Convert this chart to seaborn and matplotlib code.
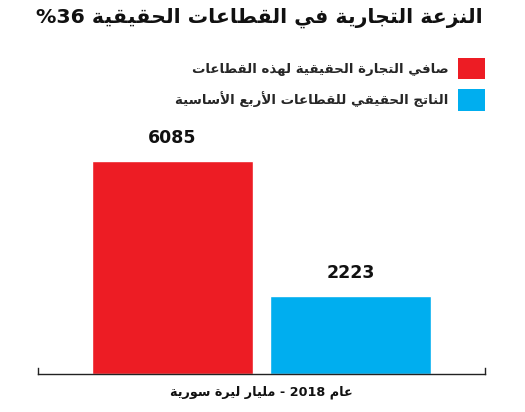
import numpy as np
import pandas as pd
import matplotlib
matplotlib.use("Agg")
import matplotlib.pyplot as plt
from matplotlib.patches import Patch
import seaborn as sns

# chart data
categories = ["صافي التجارة الحقيقية لهذه القطاعات",
              "الناتج الحقيقي للقطاعات الأربع الأساسية"]
values = [6085, 2223]
colors = ["#ED1C24", "#00AEEF"]
title = "النزعة التجارية في القطاعات الحقيقية 36%"
xlabel = "عام 2018 - مليار ليرة سورية"

# --- minimal arabic shaping (matplotlib has no shaping / bidi) ---
DUAL = {'ئ': 0xFE89, 'ب': 0xFE8F, 'ت': 0xFE95, 'ث': 0xFE99, 'ج': 0xFE9D, 'ح': 0xFEA1,
        'خ': 0xFEA5, 'س': 0xFEB1, 'ش': 0xFEB5, 'ص': 0xFEB9, 'ض': 0xFEBD, 'ط': 0xFEC1,
        'ظ': 0xFEC5, 'ع': 0xFEC9, 'غ': 0xFECD, 'ف': 0xFED1, 'ق': 0xFED5, 'ك': 0xFED9,
        'ل': 0xFEDD, 'م': 0xFEE1, 'ن': 0xFEE5, 'ه': 0xFEE9, 'ي': 0xFEF1}
RIGHT = {'آ': 0xFE81, 'أ': 0xFE83, 'ؤ': 0xFE85, 'إ': 0xFE87, 'ا': 0xFE8D, 'ة': 0xFE93,
         'د': 0xFEA9, 'ذ': 0xFEAB, 'ر': 0xFEAD, 'ز': 0xFEAF, 'و': 0xFEED, 'ى': 0xFEEF}
LAM_ALEF = {'آ': 0xFEF5, 'أ': 0xFEF7, 'إ': 0xFEF9, 'ا': 0xFEFB}


def shape(text):
    units = []
    i = 0
    while i < len(text):
        ch = text[i]
        if ch == 'ل' and i + 1 < len(text) and text[i + 1] in LAM_ALEF:
            units.append(('R', LAM_ALEF[text[i + 1]]))
            i += 2
            continue
        if ch in DUAL:
            units.append(('D', DUAL[ch]))
        elif ch in RIGHT:
            units.append(('R', RIGHT[ch]))
        else:
            units.append(('N', ch))
        i += 1
    out = []
    for k, (kind, base) in enumerate(units):
        if kind == 'N':
            out.append(base)
            continue
        prev = k > 0 and units[k - 1][0] == 'D'
        nxt = kind == 'D' and k + 1 < len(units) and units[k + 1][0] in 'DR'
        if kind == 'D':
            off = 3 if (prev and nxt) else 1 if prev else 2 if nxt else 0
        else:
            off = 1 if prev else 0
        out.append(chr(base + off))
    s = ''.join(out)[::-1]
    # put digit runs back in left-to-right order
    res, run = [], []
    for ch in s:
        if ch.isdigit():
            run.append(ch)
        else:
            res.extend(run[::-1]); run = []
            res.append(ch)
    res.extend(run[::-1])
    return ''.join(res)


sns.set_theme(style="white")
plt.rcParams['font.family'] = ['DejaVu Sans']

df = pd.DataFrame({"series": categories, "value": values})

fig = plt.figure(figsize=(5.25, 4.12), dpi=100)
ax = fig.add_axes([38 / 525, 38 / 412, 447 / 525, (374 - 129) / 412])
sns.barplot(data=df, x="series", y="value", hue="series", palette=colors,
            width=0.9, saturation=1, legend=False, ax=ax)
ax.set_xlim(-0.75, 1.75)
ax.set_ylim(0, 7000)
ax.set_xticks([])
ax.set_yticks([])
ax.set_ylabel("")
ax.set_xlabel(shape(xlabel), fontsize=9.2, fontweight="bold", labelpad=8, color="#111")
ax.spines["top"].set_visible(False)
for side in ["left", "right", "bottom"]:
    ax.spines[side].set_color("#222")
    ax.spines[side].set_linewidth(1)
ax.spines["left"].set_bounds(0, 170)
ax.spines["right"].set_bounds(0, 170)

for c in ax.containers:
    ax.bar_label(c, fmt="%d", padding=10, fontsize=12.5, fontweight="bold", color="#111")

handles = [Patch(facecolor=col, edgecolor="none") for col in colors]
ax.legend(handles, [shape(c) for c in categories], loc="upper right",
          bbox_to_anchor=(485 / 525, 1 - 58 / 412), bbox_transform=fig.transFigure,
          frameon=False, markerfirst=False, borderpad=0, borderaxespad=0,
          handlelength=2.0, handleheight=2.1, handletextpad=0.75, labelspacing=0.72,
          prop={"size": 9.6, "weight": "bold"})

fig.text(483 / 525, 1 - 18 / 412, shape(title), ha="right", va="center",
         fontsize=14.7, fontweight="bold", color="#111")

fig.savefig("out.png", dpi=100)
